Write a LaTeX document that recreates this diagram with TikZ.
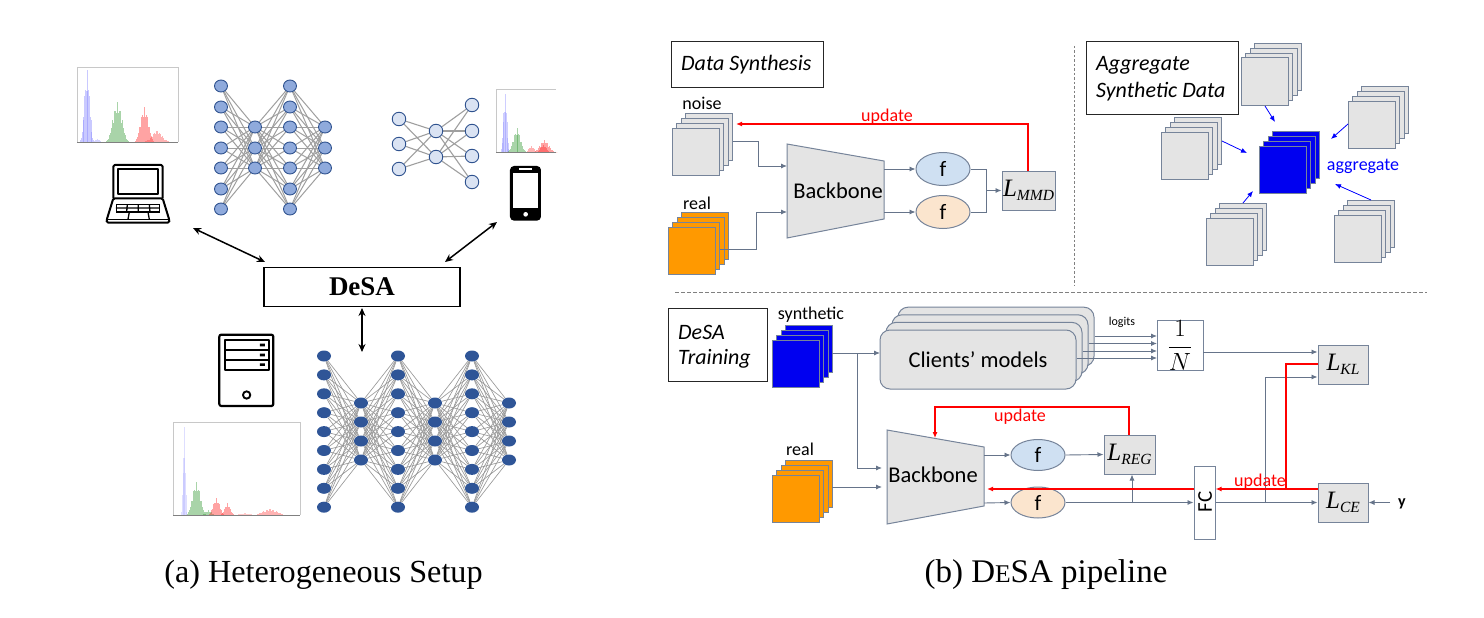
\documentclass[tikz,border=0pt]{standalone}
\usepackage{fontspec}
\setmainfont{Liberation Serif}
\newfontfamily\lblfont{Carlito}
\usetikzlibrary{arrows.meta,calc,shapes.geometric}
\pgfdeclarelayer{paper}\pgfdeclarelayer{edges}\pgfsetlayers{paper,edges,main}
\definecolor{conn}{HTML}{66748A}
\definecolor{boxgray}{HTML}{E4E4E4}
\definecolor{boxline}{HTML}{76849A}
\definecolor{orangeq}{HTML}{FF9900}
\definecolor{blueq}{HTML}{0000F0}
\definecolor{fblue}{HTML}{CFE0F2}
\definecolor{forange}{HTML}{FBE5CE}
\definecolor{gridline}{HTML}{C8C8C8}
\newcommand\fs[1]{\fontsize{#1}{#1}\selectfont}
\newcommand\lossL[1]{{\fs{25}\itshape L}{\fs{15.5}\itshape\raisebox{-4pt}{#1}}}
\tikzset{
 x=1pt,y=-1pt,
 conna/.style={draw=conn,line width=.9pt,-{Latex[length=6pt,width=5pt]}},
 connp/.style={draw=conn,line width=.9pt},
 reda/.style={draw=red,line width=1.5pt,-{Latex[length=6pt,width=5pt]}},
 redp/.style={draw=red,line width=1.5pt},
 bluea/.style={draw=blue,line width=.8pt,-{Latex[length=6pt,width=5pt]}},
 blacka/.style={draw=black,line width=1.5pt,{Stealth[length=8pt,width=7pt]}-{Stealth[length=8pt,width=7pt]}},
 lbl/.style={font=\lblfont\fs{#1},inner sep=0pt},
 titlebox/.style={draw=black!85,line width=1pt,fill=white,inner sep=0pt,anchor=north west,minimum width=#1},
 titletxt/.style={font=\lblfont\itshape\fs{22},inner sep=0pt,anchor=west},
 lossbox/.style={draw=boxline,line width=1pt,fill=boxgray,inner sep=0pt,minimum width=51pt,minimum height=39pt},
 fnode/.style={draw=boxline,line width=1pt,ellipse,minimum width=54pt,minimum height=33pt,inner sep=0pt,font=\lblfont\fs{22}},
 ngray/.style={draw=boxline,line width=1pt,fill=boxgray,minimum size=47pt,inner sep=0pt},
 norange/.style={draw=boxline,line width=1pt,fill=orangeq,minimum size=47pt,inner sep=0pt},
 nblue/.style={draw=boxline,line width=1pt,fill=blueq,minimum size=47pt,inner sep=0pt},
 nnone/.style={ellipse,draw={rgb,255:red,47;green,82;blue,143},line width=.9pt,fill={rgb,255:red,143;green,170;blue,220},minimum width=13pt,minimum height=12pt,inner sep=0pt},
 nntwo/.style={circle,draw={rgb,255:red,47;green,82;blue,143},line width=.9pt,fill={rgb,255:red,218;green,227;blue,243},minimum size=13.5pt,inner sep=0pt},
 nnthree/.style={ellipse,fill={rgb,255:red,47;green,85;blue,151},minimum width=14pt,minimum height=11pt,inner sep=0pt},
 edgeone/.style={draw=gray!75,line width=1pt},
 edgetwo/.style={draw=gray!75,line width=1.1pt},
 edgethree/.style={draw=gray!80,line width=.65pt},
 iconline/.style={draw=black,line width=2pt,line join=round},
 chartframe/.style={draw=gridline,line width=.9pt},
}
% #1 name, #2 left, #3 top, #4 style
\newcommand\stackbox[4]{%
 \foreach \k in {4,3,2,1}{%
  \pgfmathsetmacro\sx{#2+23.5+(\k-1)*4.55}%
  \pgfmathsetmacro\sy{#3+23.5-(\k-1)*4.7}%
  \node[#4] (#1\k) at (\sx,\sy) {};}}
% #1 colour, #2 base y, #3 centre x, #4 height, #5 half width, #6 bars per side
\newcommand\peak[6]{%
 \foreach \i in {-#6,...,#6}{%
  \pgfmathsetmacro\bx{#3+\i*#5/#6}%
  \pgfmathsetmacro\bd{\i/(#6+1)}%
  \pgfmathsetmacro\bh{#4*(1-\bd*\bd)^5*(.85+.15*cos(\i*137))}%
  \pgfmathsetmacro\bw{.5*#5/#6}%
  \fill[#1,fill opacity=.42] (\bx-\bw,#2) rectangle (\bx+\bw,#2-\bh);}}
\begin{document}
\begin{tikzpicture}
\useasboundingbox (0,0) rectangle (1484,618);
\begin{pgfonlayer}{paper}\fill[white] (0,0) rectangle (1484,618);\end{pgfonlayer}

%% ---- charts
\draw[chartframe] (77,142) -- (77,67) -- (178,67) -- (178,142);
\peak{blue!50!white}{142}{87}{72}{8}{10}
\peak{blue!40!white}{142}{97}{3}{6}{6}
\peak{green!50!black!80!white}{142}{117}{40}{14}{14}
\peak{red!85!white}{142}{144}{35}{12}{12}
\peak{red!70!white}{142}{157}{11}{16}{14}
\draw[gray,line width=.9pt] (77,142) -- (178,142);

\draw[chartframe] (496,152) -- (496,89) -- (556,89) ;
\peak{blue!45!white}{152}{505}{58}{5}{8}
\peak{green!50!black!80!white}{152}{517}{24}{11}{12}
\peak{red!85!white}{152}{544}{12}{13}{13}
\peak{red!85!white}{152}{543}{7}{8}{8}
\peak{red!70!white}{152}{531}{6}{7}{7}
\draw[gray,line width=.7pt] (496,152) -- (556,152);

\draw[chartframe] (173,515) -- (173,422) -- (300,422) -- (300,515);
\peak{blue!30!white}{515}{184}{88}{3}{5}
\peak{green!50!black!80!white}{515}{196}{33}{12}{12}
\peak{green!50!black!80!white}{515}{208}{5}{8}{8}
\peak{red!85!white}{515}{216}{17}{10}{10}
\peak{red!85!white}{515}{227}{12}{8}{8}
\peak{red!70!white}{515}{270}{6}{20}{16}
\peak{red!50!white}{515}{245}{2}{12}{10}
\draw[gray,line width=.8pt] (173,515) -- (300,515);

%% ---- NN 1 (laptop)
\foreach \y [count=\i] in {86,107,127,148,168,189,209}{%
  \node[nnone] (a-\i) at (221,\y) {};
  \node[nnone] (c-\i) at (290,\y) {};}
\foreach \y [count=\i] in {127,148,168}{%
  \node[nnone] (b-\i) at (255,\y) {};
  \node[nnone] (d-\i) at (325,\y) {};}
\begin{pgfonlayer}{edges}
\foreach \i in {1,...,7}\foreach \j in {1,2,3}{%
  \draw[edgeone] (a-\i)--(b-\j);
  \draw[edgeone] (b-\j)--(c-\i);
  \draw[edgeone] (c-\i)--(d-\j);}
\end{pgfonlayer}

%% ---- NN 2 (phone)
\foreach \y [count=\i] in {119,144,169}{\node[nntwo] (e-\i) at (399,\y) {};}
\foreach \y [count=\i] in {131,157}{\node[nntwo] (f-\i) at (436,\y) {};}
\foreach \y [count=\i] in {105,131,156,182}{\node[nntwo] (g-\i) at (472,\y) {};}
\begin{pgfonlayer}{edges}
\foreach \j in {1,2}{%
  \foreach \i in {1,2,3}{\draw[edgetwo] (e-\i)--(f-\j);}
  \foreach \i in {1,2,3,4}{\draw[edgetwo] (f-\j)--(g-\i);}}
\end{pgfonlayer}

%% ---- NN 3 (server)
\foreach \i in {1,...,9}{%
  \pgfmathsetmacro\yy{356+(\i-1)*18.9}%
  \node[nnthree] (p-\i) at (324,\yy) {};
  \node[nnthree] (r-\i) at (398,\yy) {};
  \node[nnthree] (t-\i) at (472,\yy) {};}
\foreach \y [count=\i] in {403,422,441,460}{%
  \node[nnthree] (q-\i) at (361,\y) {};
  \node[nnthree] (s-\i) at (435,\y) {};
  \node[nnthree] (u-\i) at (509,\y) {};}
\begin{pgfonlayer}{edges}
\foreach \i in {1,...,9}\foreach \j in {1,...,4}{%
  \draw[edgethree] (p-\i)--(q-\j);
  \draw[edgethree] (q-\j)--(r-\i);
  \draw[edgethree] (r-\i)--(s-\j);
  \draw[edgethree] (s-\j)--(t-\i);
  \draw[edgethree] (t-\i)--(u-\j);}
\end{pgfonlayer}

%% ---- icons
% laptop
\begin{scope}[shift={(60,50)},x=.3333pt,y=-.3333pt]
 \draw[iconline,rounded corners=1.5pt] (160,445) -- (160,345) -- (308,345) -- (308,445);
 \draw[iconline] (173,358) rectangle (295,432);
 \draw[iconline,rounded corners=1.5pt] (160,445) -- (308,445) -- (328,510) -- (328,518) -- (140,518) -- (140,510) -- cycle;
 \draw[draw=black,line width=1.3pt] (142,508) -- (326,508);
 \draw[draw=black,line width=1.3pt] (170,463) rectangle (298,486);
 \draw[draw=black,line width=1.3pt] (168,474) -- (300,474) (202,463) -- (200,486) (235,463) -- (235,486) (268,463) -- (270,486);
 \draw[draw=black,line width=1.3pt] (208,486) -- (204,508) (264,486) -- (268,508);
\end{scope}
% phone
\begin{scope}[shift={(370,70)},x=.3333pt,y=-.3333pt]
 \fill[black,rounded corners=4pt] (420,288) rectangle (513,452);
 \fill[white] (429,308) rectangle (505,415);
 \fill[white] (448,294) rectangle (485,300);
 \fill[white] (467,433) circle (7);
\end{scope}
% server
\begin{scope}[shift={(160,320)},x=.3333pt,y=-.3333pt]
 \draw[iconline,line width=2.2pt,rounded corners=2pt] (178,44) rectangle (340,258);
 \draw[iconline,line width=1.8pt] (194,60) rectangle (327,150);
 \draw[iconline,line width=1.8pt] (194,90) -- (327,90) (194,120) -- (327,120);
 \fill[black] (300,71) rectangle (315,79) (300,101) rectangle (315,109) (300,130) rectangle (315,138);
 \draw[iconline,line width=1.9pt] (260,225) circle (11);
\end{scope}

%% ---- DeSA hub
\node[draw=black,line width=1.5pt,fill=white,minimum width=196pt,minimum height=39pt,inner sep=0pt,font=\bfseries\fs{27}] (desa) at (362,287) {DeSA};
\coordinate (lapport) at (193,228);
\coordinate (phoneport) at (497,222);
\coordinate (serverport) at (362,352);
\coordinate (desaL) at (265,262);
\coordinate (desaR) at (445,262);
\coordinate (desabot) at (362,308);
\draw[blacka] (lapport) -- (desaL);
\draw[blacka] (phoneport) -- (desaR);
\draw[blacka] (desabot) -- (serverport);

%% ---- captions
\node[font=\fs{32.2},inner sep=0pt] (capa) at (323.5,575) {(a) Heterogeneous Setup};
\node[font=\fs{33},inner sep=0pt] (capb) at (1046,575) {(b) D{\fs{25.5}E}SA pipeline};

%% ---- dividers
\draw[draw=gray,line width=.9pt,dash pattern=on 2.5pt off 2pt] (1074,46) -- (1074,285);
\draw[draw=gray,line width=.9pt,dash pattern=on 3.5pt off 2.5pt] (675,292) -- (1427,292);

%% ---- Data synthesis
\node[titlebox=152pt,minimum height=46pt] (dsbox) at (671,41) {};
\node[titletxt] (dstext) at (681,65) {Data Synthesis};
\stackbox{noise}{672}{128}{ngray}
\stackbox{realA}{668}{227}{norange}
\node[lbl=18] (noiselbl) at (702,103) {noise};
\node[lbl=18] (reallblA) at (697,203) {real};
\coordinate (bbA1) at (787,144);\coordinate (bbA2) at (884,161);\coordinate (bbA3) at (884,219);\coordinate (bbA4) at (787,238);
\draw[draw=boxline,line width=1pt,fill=boxgray] (bbA1)--(bbA2)--(bbA3)--(bbA4)--cycle;
\node[lbl=22.5] (bbAtxt) at (838,191) {Backbone};
\node[fnode,fill=fblue] (fA1) at (943,169) {f};
\node[fnode,fill=forange] (fA2) at (943,212) {f};
\node[lossbox,minimum width=53pt] (lmmd) at (1028.5,190.5) {\lossL{MMD}};
\coordinate (inA1) at (787,166);\coordinate (inA2) at (787,212);
\coordinate (elA1) at (758,166);\coordinate (elA2) at (756,212);
\coordinate (bbAoutT) at (884,169);\coordinate (bbAoutB) at (884,212);
\coordinate (mergeA) at (986,190.5);
\coordinate (noisetip) at (736,124);
\coordinate (lmmdtop) at (1028,124);
\draw[conna] ($(noise4.east)+(0,4.5)$) -| (elA1) -- (inA1);
\draw[conna] ($(realA2.east)+(0,4)$) -| (elA2) -- (inA2);
\draw[conna] (bbAoutT) -- (fA1.west);
\draw[conna] (bbAoutB) -- (fA2.west);
\draw[connp] (fA1.east) -| (mergeA);
\draw[connp] (fA2.east) -| (mergeA);
\draw[conna] (mergeA) -- (lmmd.west);
\draw[reda,line width=1.25pt] (lmmd.north -| lmmdtop) -- (lmmdtop) -- (noisetip);
\node[lbl=18,text=red] (updA) at (887,117) {update};

%% ---- Aggregate
\node[titlebox=152pt,minimum height=73pt] (agbox) at (1086,41) {};
\node[titletxt] (agt1) at (1096,65) {Aggregate};
\node[titletxt] (agt2) at (1096,92) {Synthetic Data};
\stackbox{sT}{1241}{58}{ngray}
\stackbox{sR}{1348}{101}{ngray}
\stackbox{sL}{1161}{132}{ngray}
\stackbox{sBL}{1206}{218}{ngray}
\stackbox{sBR}{1334}{215}{ngray}
\stackbox{sC}{1259}{146}{nblue}
\coordinate (tipT) at (1275,122);\coordinate (tipR) at (1331,139);\coordinate (tipL) at (1247,153);\coordinate (tipBL) at (1253,191);\coordinate (tipBR) at (1335,184);
\coordinate (fromT) at (1265,106);\coordinate (fromR) at (1348,124);\coordinate (fromL) at (1222,141);\coordinate (fromBL) at (1243,203);\coordinate (fromBR) at (1371,200);
\draw[bluea] (fromT)--(tipT);
\draw[bluea] (fromR)--(tipR);
\draw[bluea] (fromL)--(tipL);
\draw[bluea] (fromBL)--(tipBL);
\draw[bluea] (fromBR)--(tipBR);
\node[lbl=18,text=blue] (aggl) at (1363,166) {aggregate};

%% ---- DeSA training
\node[titlebox=99pt,minimum height=73pt] (trbox) at (668,308) {};
\node[titletxt] (trt1) at (678,332) {DeSA};
\node[titletxt] (trt2) at (678,359) {Training};
\node[lbl=18] (synl) at (811,315) {synthetic};
\stackbox{syn}{772}{340}{nblue}
\node[lbl=18] (reall) at (800,449) {real};
\stackbox{realB}{772}{475}{norange}
\foreach \k in {4,3,2,1}{%
  \pgfmathsetmacro\cx{978+(\k-1)*6}%
  \pgfmathsetmacro\cy{359.5-(\k-1)*7.6}%
  \node[draw=boxline,line width=1pt,fill=boxgray,rounded corners=10pt,minimum width=196pt,minimum height=59pt,inner sep=0pt] (cm\k) at (\cx,\cy) {};}
\node[lbl=22.5] (cmtxt) at (978,360) {Clients’ models};
\node[lbl=12] (logits) at (1122,322) {logits};
\node[draw=boxline,line width=1pt,fill=white,minimum width=46pt,minimum height=47pt,inner sep=0pt] (oneN) at (1180,345.5) {\fs{23}$\displaystyle\frac{1}{N}$};
\coordinate (lg1) at (1157,336);\coordinate (lg2) at (1157,343.5);\coordinate (lg3) at (1157,351);\coordinate (lg4) at (1157,358);
\draw[conna] (cm4.east |- lg1) -- (lg1);
\draw[conna] (cm3.east |- lg2) -- (lg2);
\draw[conna] (cm2.east |- lg3) -- (lg3);
\draw[conna] (cm1.east |- lg4) -- (lg4);

\coordinate (bbB1) at (887,430);\coordinate (bbB2) at (984,447);\coordinate (bbB3) at (984,506);\coordinate (bbB4) at (887,524);
\draw[draw=boxline,line width=1pt,fill=boxgray] (bbB1)--(bbB2)--(bbB3)--(bbB4)--cycle;
\node[lbl=22.5] (bbBtxt) at (933,475) {Backbone};
\node[fnode,fill=fblue,minimum height=31pt] (fB1) at (1038,455) {f};
\node[fnode,fill=forange,minimum height=31pt] (fB2) at (1038,502.5) {f};
\node[lossbox] (lreg) at (1129.5,454.5) {\lossL{REG}};
\node[lossbox,minimum width=50pt] (lkl) at (1343,364.5) {\lossL{KL}};
\node[lossbox,minimum width=50pt] (lce) at (1343,502.5) {\lossL{CE}};
\node[draw=boxline,line width=1pt,fill=white,minimum width=21pt,minimum height=73pt,inner sep=0pt] (fc) at (1204.5,502.5) {};
\node[lbl=21,rotate=90] (fctxt) at (1205,502) {FC};
\node[inner sep=0pt,font=\lblfont\bfseries\fs{16}] (ylbl) at (1402,504) {y};

\coordinate (synout) at (832,353);
\coordinate (cmin) at (880,353);
\coordinate (branch) at (857,353);
\coordinate (bbBin1) at (882,468);
\coordinate (bbBin2) at (882,487);
\coordinate (realout) at (832,487);
\coordinate (bbBoutT) at (984,455);
\coordinate (bbBoutB) at (984,503);
\draw[conna] (synout) -- (cmin);
\draw[conna] (branch) |- (bbBin1);
\draw[conna] (realout) -- (bbBin2);
\draw[conna] (bbBoutT) -- (fB1.west);
\draw[conna] (bbBoutB) -- (fB2.west);
\draw[conna] (fB1.east) -- (lreg.west);
\draw[conna] (fB2.east) -- (fc.west |- fB2.east);
\coordinate (regbr) at (1132,503);
\draw[conna] (regbr) -- (lreg.south -| regbr);
\draw[conna] (fc.east |- lce.west) -- (lce.west);
\coordinate (klbr) at (1265,503);
\coordinate (klin) at (1265,377);
\draw[conna] (klbr) -- (klin) -- (lkl.west |- klin);
\coordinate (ninel) at (1203,352);
\draw[conna] (ninel) -- (lkl.west |- ninel);
\coordinate (yout) at (1390,502.5);
\draw[conna] (yout) -- (lce.east);

% red feedback
\coordinate (regUp) at (1129,407);
\coordinate (bbTop) at (935,407);
\coordinate (bbHit) at (935,438);
\draw[reda,line width=1.1pt] (lreg.north -| regUp) -- (regUp) -- (bbTop) -- (bbHit);
\coordinate (redY) at (1286,489);
\coordinate (redKL) at (1286,364);
\coordinate (bbRed) at (987,489);
\draw[reda] (lce.west |- redY) -- (fc.east |- redY);
\draw[redp] (lkl.west |- redKL) -- (redKL) -- (redY);
\draw[reda] (fc.west |- redY) -- (bbRed);
\node[lbl=18,text=red] (updB) at (1020,417) {update};
\node[lbl=18,text=red] (updC) at (1260,482) {update};
\end{tikzpicture}
\end{document}
